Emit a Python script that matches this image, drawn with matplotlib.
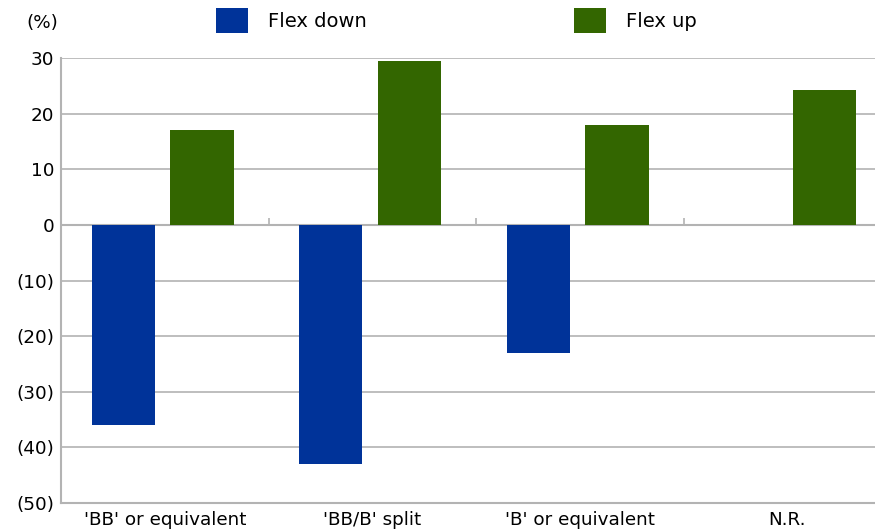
import matplotlib.pyplot as plt
import numpy as np

# chart data
categories = ["'BB' or equivalent", "'BB/B' split", "'B' or equivalent", "N.R."]
flex_down = [-36, -43, -23, 0]
flex_up = [17, 29.5, 18, 24.3]
yticks = [30, 20, 10, 0, -10, -20, -30, -40, -50]

blue = '#003399'
green = '#336600'
grid_col = '#b3b3b3'

plt.rcParams['font.family'] = ['DejaVu Sans']
fs = 13.2

fig = plt.figure(figsize=(8.75, 5.32), dpi=100)
ax = fig.add_axes([61 / 875, 29 / 532, 830 / 875, 445 / 532])

x = np.arange(len(categories))
w = 0.305
b1 = ax.bar(x - 0.2, flex_down, width=w, color=blue, zorder=3, label='Flex down')
b2 = ax.bar(x + 0.18, flex_up, width=w, color=green, zorder=3, label='Flex up')

ax.set_xlim(-0.5, len(categories) - 0.5)
ax.set_ylim(-50, 30)
ax.set_yticks(yticks)
ax.set_yticklabels([f'({abs(v)})' if v < 0 else str(v) for v in yticks])
ax.set_xticks(x)
ax.set_xticklabels(categories)
ax.tick_params(axis='both', length=0, labelsize=fs, colors='black')
ax.tick_params(axis='y', pad=5)
ax.tick_params(axis='x', pad=6)

ax.grid(axis='y', color=grid_col, linewidth=1.2, zorder=0)
for s in ['top', 'right']:
    ax.spines[s].set_visible(False)
for s in ['left', 'bottom']:
    ax.spines[s].set_color(grid_col)
    ax.spines[s].set_linewidth(1.5)

# zero line and category separator ticks
ax.axhline(0, color=grid_col, linewidth=1.5, zorder=2)
ax.vlines(x[:-1] + 0.5, 0, 1.3, color=grid_col, linewidth=1.2, zorder=2)

fig.text(26 / 875, 1 - 23 / 532, '(%)', fontsize=fs, va='center')

fig.legend(handles=[b1, b2], loc='upper left', bbox_to_anchor=(216 / 875, 1 - 8 / 532),
           ncol=2, frameon=False, fontsize=14, handlelength=1.65, handleheight=1.6,
           handletextpad=1.0, columnspacing=10.7, borderpad=0, borderaxespad=0)

fig.savefig('out.png', dpi=100)
